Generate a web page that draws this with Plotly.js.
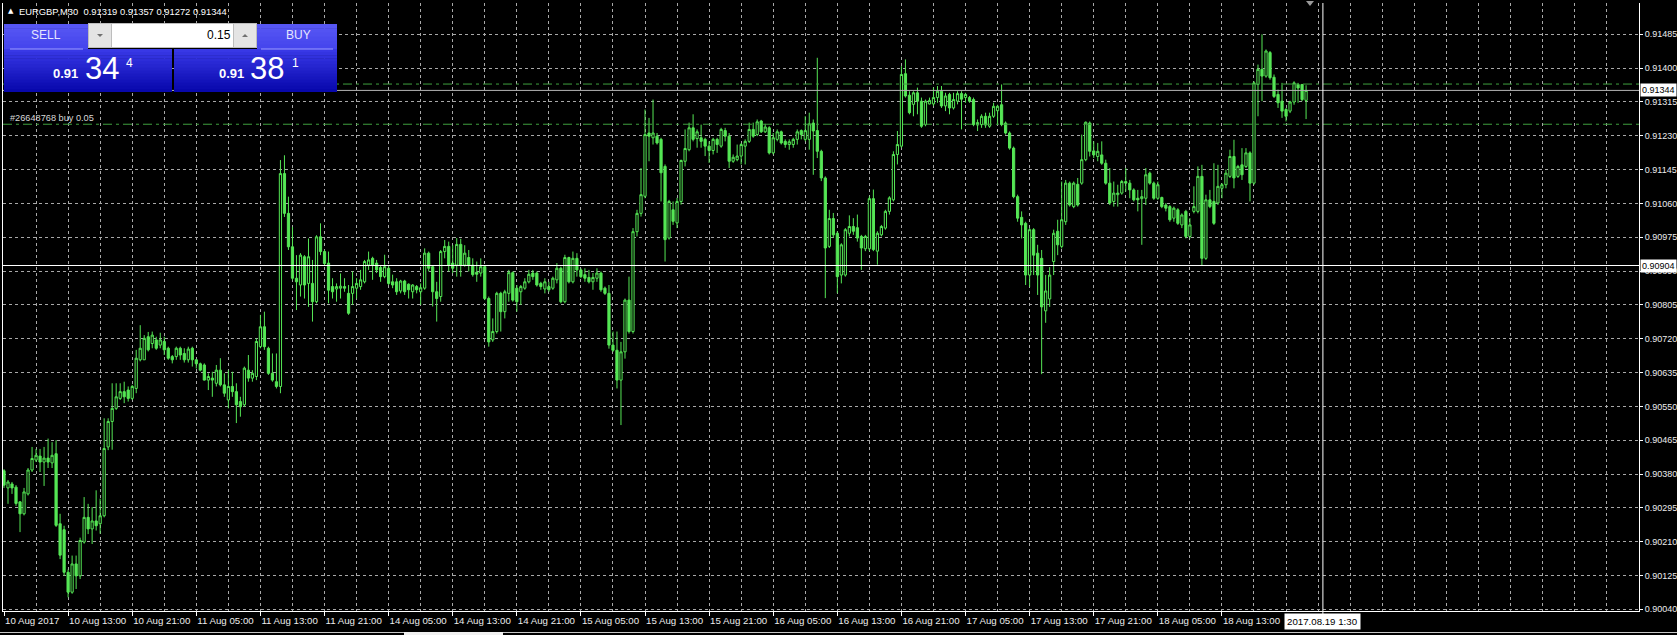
<!DOCTYPE html>
<html><head><meta charset="utf-8">
<script src="https://cdn.plot.ly/plotly-3.0.1.min.js"></script>
<style>html,body{margin:0;padding:0;background:#000;overflow:hidden}#chart{width:1677px;height:635px}</style>
</head><body><div id="chart"></div>
<script>
// ---------- data (EURGBP, M30, bars from 10 Aug 2017 05:00) ----------
const symbolTitle = "EURGBP,M30";
const lastBarText = ["0.91319", "0.91357", "0.91272", "0.91344"];

const open = [
0.90388,0.90345,0.90355,0.90347,0.90310,0.90280,0.90330,0.90390,0.90415,0.90425,
0.90410,0.90420,0.90408,0.90431,0.90255,0.90240,0.90133,0.90083,0.90154,0.90124,
0.90209,0.90271,0.90242,0.90262,0.90255,0.90275,0.90448,0.90512,0.90545,0.90570,
0.90587,0.90591,0.90570,0.90595,0.90667,0.90667,0.90725,0.90708,0.90717,0.90704,
0.90713,0.90696,0.90675,0.90675,0.90696,0.90683,0.90667,0.90696,0.90667,0.90657,
0.90654,0.90616,0.90621,0.90608,0.90641,0.90604,0.90566,0.90600,0.90587,0.90562,
0.90554,0.90641,0.90621,0.90625,0.90700,0.90750,0.90696,0.90633,0.90612,0.90600,
0.91135,0.91035,0.90951,0.90872,0.90855,0.90926,0.90859,0.90859,0.90813,0.90976,
0.90939,0.90910,0.90851,0.90845,0.90847,0.90851,0.90834,0.90834,0.90847,0.90851,
0.90863,0.90905,0.90922,0.90910,0.90899,0.90876,0.90897,0.90863,0.90863,0.90840,
0.90865,0.90857,0.90838,0.90851,0.90838,0.90847,0.90935,0.90901,0.90838,0.90826,
0.90939,0.90952,0.90910,0.90905,0.90957,0.90905,0.90924,0.90905,0.90887,0.90885,
0.90901,0.90821,0.90717,0.90738,0.90834,0.90788,0.90834,0.90886,0.90847,0.90838,
0.90847,0.90863,0.90885,0.90885,0.90859,0.90845,0.90851,0.90847,0.90868,0.90897,
0.90813,0.90924,0.90863,0.90922,0.90893,0.90881,0.90874,0.90863,0.90872,0.90885,
0.90847,0.90834,0.90704,0.90691,0.90616,0.90687,0.90817,0.90738,0.90989,0.91035,
0.91078,0.91237,0.91225,0.91229,0.91221,0.91153,0.90973,0.91044,0.91011,0.91065,
0.91166,0.91195,0.91250,0.91223,0.91225,0.91221,0.91204,0.91193,0.91221,0.91204,
0.91243,0.91229,0.91166,0.91170,0.91179,0.91204,0.91216,0.91246,0.91233,0.91267,
0.91240,0.91250,0.91187,0.91221,0.91240,0.91216,0.91208,0.91208,0.91221,0.91243,
0.91221,0.91221,0.91262,0.91243,0.91191,0.91124,0.90952,0.91022,0.90985,0.90880,
0.90880,0.90985,0.91002,0.90999,0.90977,0.90946,0.90946,0.91072,0.90940,0.90981,
0.90998,0.91040,0.91069,0.91183,0.91204,0.91386,0.91332,0.91309,0.91338,0.91317,
0.91258,0.91310,0.91310,0.91326,0.91342,0.91305,0.91334,0.91300,0.91317,0.91336,
0.91326,0.91326,0.91321,0.91263,0.91258,0.91279,0.91254,0.91279,0.91293,0.91308,
0.91262,0.91237,0.91199,0.91077,0.91025,0.91010,0.90880,0.90994,0.90935,0.90922,
0.90790,0.90820,0.90914,0.90990,0.90952,0.91014,0.91111,0.91052,0.91108,0.91111,
0.91170,0.91262,0.91192,0.91178,0.91182,0.91161,0.91111,0.91065,0.91082,0.91086,
0.91115,0.91111,0.91094,0.91073,0.91072,0.91073,0.91136,0.91111,0.91073,0.91075,
0.91056,0.91052,0.91023,0.91044,0.91006,0.91040,0.90977,0.91040,0.91040,0.91128,
0.90922,0.91069,0.91065,0.91061,0.91098,0.91107,0.91128,0.91178,0.91128,0.91157,
0.91153,0.91187,0.91111,0.91359,0.91397,0.91380,0.91439,0.91377,0.91334,0.91317,
0.91296,0.91292,0.91315,0.91359,0.91359,0.91319];

const high = [
0.90392,0.90365,0.90360,0.90352,0.90312,0.90345,0.90395,0.90448,0.90443,0.90443,
0.90448,0.90469,0.90460,0.90465,0.90280,0.90250,0.90140,0.90175,0.90175,0.90220,
0.90322,0.90305,0.90297,0.90339,0.90318,0.90520,0.90520,0.90608,0.90608,0.90608,
0.90612,0.90600,0.90604,0.90692,0.90754,0.90729,0.90737,0.90738,0.90725,0.90735,
0.90725,0.90700,0.90679,0.90700,0.90700,0.90696,0.90700,0.90700,0.90669,0.90660,
0.90658,0.90633,0.90637,0.90654,0.90671,0.90633,0.90641,0.90637,0.90608,0.90574,
0.90650,0.90679,0.90641,0.90721,0.90780,0.90788,0.90700,0.90683,0.90683,0.91169,
0.91181,0.91077,0.91001,0.90930,0.90935,0.90930,0.90972,0.90918,0.90980,0.91010,
0.90943,0.90939,0.90872,0.90859,0.90884,0.90872,0.90855,0.90889,0.90872,0.90893,
0.90918,0.90939,0.90926,0.90918,0.90905,0.90931,0.90905,0.90881,0.90872,0.90868,
0.90868,0.90859,0.90857,0.90855,0.90859,0.90947,0.90939,0.90905,0.90863,0.90943,
0.90968,0.90964,0.90955,0.90973,0.90971,0.90955,0.90943,0.90922,0.90914,0.90922,
0.90905,0.90826,0.90771,0.90838,0.90838,0.90843,0.90893,0.90889,0.90855,0.90855,
0.90872,0.90893,0.90893,0.90889,0.90863,0.90872,0.90863,0.90876,0.90910,0.90901,
0.90931,0.90926,0.90939,0.90935,0.90897,0.90897,0.90893,0.90885,0.90897,0.90889,
0.90851,0.90855,0.90738,0.90738,0.90712,0.90821,0.90876,0.90998,0.91044,0.91149,
0.91296,0.91275,0.91321,0.91237,0.91225,0.91158,0.91069,0.91065,0.91074,0.91170,
0.91246,0.91263,0.91284,0.91246,0.91258,0.91225,0.91216,0.91225,0.91225,0.91250,
0.91250,0.91237,0.91183,0.91208,0.91212,0.91221,0.91263,0.91263,0.91271,0.91270,
0.91260,0.91254,0.91237,0.91246,0.91243,0.91221,0.91221,0.91225,0.91246,0.91246,
0.91279,0.91288,0.91271,0.91426,0.91195,0.91128,0.91044,0.91036,0.90990,0.90960,
0.90998,0.91030,0.91023,0.91032,0.90981,0.90981,0.91078,0.91095,0.90990,0.91006,
0.91044,0.91078,0.91191,0.91242,0.91405,0.91422,0.91342,0.91342,0.91351,0.91326,
0.91321,0.91326,0.91351,0.91355,0.91355,0.91338,0.91338,0.91338,0.91342,0.91342,
0.91338,0.91330,0.91326,0.91271,0.91284,0.91288,0.91288,0.91313,0.91308,0.91359,
0.91266,0.91241,0.91203,0.91082,0.91040,0.91014,0.90998,0.90998,0.90956,0.90943,
0.90880,0.90900,0.90994,0.91019,0.91115,0.91119,0.91115,0.91115,0.91124,0.91233,
0.91266,0.91266,0.91216,0.91212,0.91216,0.91170,0.91149,0.91115,0.91107,0.91119,
0.91149,0.91119,0.91098,0.91094,0.91094,0.91149,0.91140,0.91115,0.91115,0.91077,
0.91061,0.91056,0.91052,0.91048,0.91035,0.91044,0.91023,0.91103,0.91153,0.91157,
0.91082,0.91094,0.91161,0.91157,0.91111,0.91145,0.91195,0.91220,0.91157,0.91199,
0.91199,0.91191,0.91367,0.91409,0.91485,0.91447,0.91443,0.91384,0.91346,0.91363,
0.91300,0.91318,0.91367,0.91363,0.91360,0.91357];

const low = [
0.90345,0.90305,0.90330,0.90300,0.90234,0.90276,0.90326,0.90385,0.90410,0.90385,
0.90350,0.90395,0.90395,0.90247,0.90166,0.90124,0.90070,0.90079,0.90091,0.90116,
0.90205,0.90229,0.90204,0.90238,0.90230,0.90271,0.90440,0.90441,0.90541,0.90566,
0.90558,0.90562,0.90566,0.90583,0.90663,0.90667,0.90688,0.90696,0.90692,0.90696,
0.90679,0.90667,0.90658,0.90667,0.90667,0.90660,0.90660,0.90650,0.90645,0.90638,
0.90615,0.90591,0.90574,0.90600,0.90600,0.90574,0.90545,0.90574,0.90508,0.90524,
0.90549,0.90612,0.90612,0.90616,0.90696,0.90692,0.90629,0.90612,0.90595,0.90583,
0.91026,0.90943,0.90867,0.90792,0.90826,0.90821,0.90800,0.90763,0.90809,0.90930,
0.90905,0.90809,0.90821,0.90813,0.90821,0.90838,0.90780,0.90805,0.90821,0.90843,
0.90859,0.90893,0.90868,0.90885,0.90863,0.90872,0.90855,0.90847,0.90830,0.90834,
0.90830,0.90821,0.90821,0.90834,0.90805,0.90843,0.90889,0.90801,0.90763,0.90813,
0.90922,0.90889,0.90885,0.90876,0.90876,0.90901,0.90889,0.90876,0.90863,0.90876,
0.90817,0.90700,0.90712,0.90733,0.90738,0.90771,0.90813,0.90813,0.90788,0.90805,
0.90843,0.90859,0.90868,0.90851,0.90843,0.90834,0.90838,0.90843,0.90859,0.90809,
0.90809,0.90859,0.90859,0.90876,0.90872,0.90863,0.90859,0.90843,0.90863,0.90838,
0.90830,0.90695,0.90687,0.90595,0.90503,0.90670,0.90733,0.90733,0.90977,0.91027,
0.91073,0.91166,0.91208,0.91208,0.91065,0.90914,0.90969,0.91006,0.90998,0.91057,
0.91153,0.91191,0.91216,0.91200,0.91200,0.91179,0.91162,0.91183,0.91187,0.91200,
0.91216,0.91149,0.91162,0.91166,0.91158,0.91158,0.91212,0.91225,0.91229,0.91237,
0.91237,0.91183,0.91183,0.91216,0.91208,0.91200,0.91195,0.91200,0.91208,0.91221,
0.91216,0.91195,0.91132,0.91174,0.91116,0.90822,0.90948,0.90973,0.90834,0.90859,
0.90876,0.90977,0.90981,0.90964,0.90893,0.90940,0.90940,0.90940,0.90906,0.90977,
0.90994,0.91032,0.91065,0.91158,0.91200,0.91326,0.91284,0.91279,0.91284,0.91250,
0.91254,0.91309,0.91305,0.91313,0.91300,0.91292,0.91284,0.91296,0.91309,0.91246,
0.91313,0.91313,0.91254,0.91242,0.91250,0.91250,0.91250,0.91275,0.91258,0.91254,
0.91233,0.91195,0.91073,0.91014,0.90972,0.90855,0.90850,0.90880,0.90830,0.90631,
0.90760,0.90800,0.90880,0.90930,0.90947,0.91006,0.91052,0.91048,0.91052,0.91107,
0.91166,0.91178,0.91174,0.91166,0.91157,0.91107,0.91056,0.91052,0.91052,0.91082,
0.91090,0.91073,0.91065,0.91040,0.90956,0.91056,0.91107,0.91069,0.91069,0.91048,
0.91040,0.91014,0.91014,0.91006,0.90998,0.90972,0.90972,0.91035,0.91035,0.90905,
0.90918,0.91048,0.91006,0.91056,0.91073,0.91098,0.91124,0.91098,0.91124,0.91119,
0.91149,0.91065,0.91107,0.91279,0.91317,0.91376,0.91371,0.91325,0.91300,0.91275,
0.91266,0.91287,0.91308,0.91313,0.91317,0.91272];

const close = [
0.90352,0.90360,0.90345,0.90306,0.90280,0.90335,0.90390,0.90419,0.90427,0.90410,
0.90420,0.90410,0.90427,0.90251,0.90176,0.90133,0.90083,0.90154,0.90124,0.90213,
0.90271,0.90242,0.90262,0.90250,0.90275,0.90444,0.90512,0.90545,0.90574,0.90587,
0.90574,0.90570,0.90600,0.90671,0.90696,0.90721,0.90692,0.90729,0.90696,0.90717,
0.90692,0.90671,0.90667,0.90696,0.90679,0.90667,0.90694,0.90667,0.90657,0.90641,
0.90616,0.90625,0.90616,0.90641,0.90604,0.90583,0.90600,0.90587,0.90554,0.90549,
0.90646,0.90621,0.90633,0.90713,0.90750,0.90700,0.90633,0.90616,0.90600,0.91135,
0.91035,0.90951,0.90872,0.90863,0.90930,0.90855,0.90926,0.90813,0.90976,0.90939,
0.90909,0.90842,0.90838,0.90851,0.90852,0.90847,0.90784,0.90851,0.90859,0.90868,
0.90914,0.90918,0.90905,0.90893,0.90876,0.90901,0.90859,0.90855,0.90838,0.90865,
0.90838,0.90843,0.90855,0.90843,0.90848,0.90935,0.90897,0.90838,0.90821,0.90939,
0.90952,0.90905,0.90897,0.90957,0.90905,0.90935,0.90905,0.90881,0.90882,0.90901,
0.90821,0.90712,0.90738,0.90834,0.90788,0.90838,0.90886,0.90817,0.90813,0.90851,
0.90863,0.90882,0.90876,0.90855,0.90851,0.90863,0.90843,0.90872,0.90897,0.90813,
0.90924,0.90863,0.90922,0.90893,0.90876,0.90872,0.90863,0.90874,0.90885,0.90843,
0.90834,0.90704,0.90691,0.90616,0.90687,0.90817,0.90738,0.90989,0.91035,0.91082,
0.91233,0.91229,0.91237,0.91212,0.91137,0.90969,0.91065,0.91015,0.91065,0.91168,
0.91198,0.91250,0.91221,0.91240,0.91216,0.91204,0.91193,0.91221,0.91208,0.91246,
0.91229,0.91166,0.91176,0.91179,0.91208,0.91216,0.91246,0.91229,0.91265,0.91240,
0.91252,0.91187,0.91225,0.91240,0.91212,0.91208,0.91215,0.91221,0.91240,0.91233,
0.91243,0.91260,0.91242,0.91191,0.91124,0.90948,0.91022,0.90981,0.90876,0.90956,
0.90994,0.91002,0.90990,0.90973,0.90948,0.90977,0.91072,0.90944,0.90985,0.91002,
0.91040,0.91074,0.91183,0.91208,0.91384,0.91330,0.91288,0.91338,0.91317,0.91254,
0.91317,0.91319,0.91326,0.91342,0.91305,0.91330,0.91300,0.91321,0.91336,0.91322,
0.91334,0.91317,0.91258,0.91257,0.91279,0.91257,0.91279,0.91304,0.91304,0.91258,
0.91237,0.91199,0.91077,0.91023,0.91006,0.90880,0.90994,0.90930,0.90880,0.90800,
0.90840,0.90880,0.90985,0.90956,0.91019,0.91111,0.91056,0.91111,0.91056,0.91170,
0.91264,0.91191,0.91182,0.91191,0.91161,0.91111,0.91061,0.91086,0.91086,0.91115,
0.91111,0.91094,0.91069,0.91069,0.91077,0.91132,0.91111,0.91073,0.91107,0.91052,
0.91048,0.91019,0.91048,0.91010,0.91031,0.90977,0.91006,0.91052,0.91128,0.90922,
0.91069,0.91052,0.91010,0.91103,0.91107,0.91136,0.91178,0.91124,0.91153,0.91132,
0.91187,0.91111,0.91363,0.91397,0.91380,0.91443,0.91376,0.91329,0.91313,0.91292,
0.91279,0.91315,0.91363,0.91350,0.91321,0.91344];

// time labels, one every 16 bars (8 hours)
const xTickLabels = ["10 Aug 2017","10 Aug 13:00","10 Aug 21:00","11 Aug 05:00","11 Aug 13:00",
"11 Aug 21:00","14 Aug 05:00","14 Aug 13:00","14 Aug 21:00","15 Aug 05:00","15 Aug 13:00",
"15 Aug 21:00","16 Aug 05:00","16 Aug 13:00","16 Aug 21:00","17 Aug 05:00","17 Aug 13:00",
"17 Aug 21:00","18 Aug 05:00","18 Aug 13:00"];
const barsPerLabel = 16;
const barsPerGrid = 8;

// price scale labels
const yTickLabels = ["0.90040","0.90125","0.90210","0.90295","0.90380","0.90465","0.90550",
"0.90635","0.90720","0.90805","0.90890","0.90975","0.91060","0.91145","0.91230","0.91315",
"0.91400","0.91485"];

const bidPrice = 0.91344;
const orderLevels = [0.91360, 0.91259];
const orderLabel = "#26648768 buy 0.05";
const crossPrice = 0.90904;
const crossBar = 329.2;
const crossTime = "2017.08.19 1:30";
const lotSize = "0.15";
const sellQuote = {head: "0.91", big: "34", pip: "4"};
const buyQuote = {head: "0.91", big: "38", pip: "1"};

// ---------- layout geometry ----------
const W = 1677, H = 635, ML = 3, MR = 38, MT = 3, MB = 24;
const PW = W - ML - MR, PH = H - MT - MB;
const px = v => (v - ML) / PW;
const py = v => (H - MB - v) / PH;
const FONT = "Liberation Sans, Arial, sans-serif";
const GREEN = "#55e655";
const GRID = "#a8a8a8";

const idx = open.map((_, i) => i);

const traces = [{
  type: "candlestick", x: idx, open: open, high: high, low: low, close: close,
  increasing: {line: {color: GREEN, width: 1}, fillcolor: "#000000"},
  decreasing: {line: {color: GREEN, width: 1}, fillcolor: GREEN},
  whiskerwidth: 0, hoverinfo: "skip", showlegend: false
}];

const shapes = [];
orderLevels.forEach(p => shapes.push({type: "line", xref: "paper", yref: "y", x0: 0, x1: 1, y0: p, y1: p,
  line: {color: "#3f9f3f", width: 1, dash: "9px,4px,3px,4px"}}));
shapes.push({type: "line", xref: "paper", yref: "y", x0: 0, x1: 1, y0: bidPrice, y1: bidPrice,
  line: {color: "#b4b4b4", width: 1}});
shapes.push({type: "line", xref: "paper", yref: "y", x0: 0, x1: 1, y0: crossPrice, y1: crossPrice,
  line: {color: "#ffffff", width: 1}});
shapes.push({type: "line", xref: "x", yref: "paper", x0: crossBar, x1: crossBar, y0: py(628), y1: 1,
  line: {color: "#ffffff", width: 1}});

function hex(c) { return [1, 3, 5].map(k => parseInt(c.substr(k, 2), 16)); }
function grad(x0, x1, y0, y1, c0, c1, n) {
  const a = hex(c0), b = hex(c1);
  for (let k = 0; k < n; k++) {
    const t = (k + 0.5) / n;
    const c = a.map((v, j) => Math.round(v + (b[j] - v) * t));
    shapes.push({type: "rect", xref: "paper", yref: "paper", x0: px(x0), x1: px(x1),
      y0: py(y0 + (y1 - y0) * k / n), y1: py(Math.min(y1, y0 + (y1 - y0) * (k + 1) / n + 0.6)),
      fillcolor: "rgb(" + c.join(",") + ")", line: {width: 0}});
  }
}
grad(4, 172, 49, 92, "#3a3ae8", "#0606aa", 14);
grad(174, 337, 49, 92, "#3a3ae8", "#0606aa", 14);
grad(4, 88, 24, 49, "#5858f4", "#4444ec", 6);
grad(257, 337, 24, 49, "#5858f4", "#4444ec", 6);
shapes.push({type: "line", xref: "paper", yref: "paper", x0: px(10), x1: px(83), y0: py(49), y1: py(49), line: {color: "#9c9cff", width: 1}});
shapes.push({type: "line", xref: "paper", yref: "paper", x0: px(261), x1: px(333), y0: py(49), y1: py(49), line: {color: "#9c9cff", width: 1}});
shapes.push({type: "rect", xref: "paper", yref: "paper", x0: px(88), x1: px(257), y0: py(48), y1: py(23), fillcolor: "#bdbdbd", line: {width: 0}});
shapes.push({type: "rect", xref: "paper", yref: "paper", x0: px(89), x1: px(111), y0: py(47), y1: py(24), fillcolor: "#e4e4e4", line: {width: 0}});
shapes.push({type: "rect", xref: "paper", yref: "paper", x0: px(234), x1: px(256), y0: py(47), y1: py(24), fillcolor: "#e4e4e4", line: {width: 0}});
shapes.push({type: "rect", xref: "paper", yref: "paper", x0: px(112), x1: px(233), y0: py(47), y1: py(24), fillcolor: "#ffffff", line: {width: 0}});
function tri(pts, color) {
  shapes.push({type: "path", xref: "paper", yref: "paper",
    path: "M" + pts.map(p => px(p[0]) + "," + py(p[1])).join(" L") + " Z", fillcolor: color, line: {width: 0}});
}
tri([[97, 34], [103, 34], [100, 37]], "#707070");
tri([[242, 37], [248, 37], [245, 34]], "#707070");
tri([[1306, 1], [1314, 1], [1310, 6]], "#9a9a9a");
shapes.push({type: "line", xref: "paper", yref: "paper", x0: px(0), x1: px(W), y0: py(632.5), y1: py(632.5), line: {color: "#c8c8c8", width: 1}});
shapes.push({type: "rect", xref: "paper", yref: "paper", x0: px(404), x1: px(503), y0: py(635), y1: py(632), fillcolor: "#f0f0f0", line: {width: 0}});

const ann = [];
function txt(t, x, y, size, color, anchor, extra) {
  ann.push(Object.assign({text: t, xref: "paper", yref: "paper", x: px(x), y: py(y), xanchor: anchor || "left",
    yanchor: "middle", showarrow: false, font: {family: FONT, size: size, color: color}, borderpad: 0}, extra || {}));
}
txt("▲", 7, 11, 7, "#ffffff", "left", {font: {family: "DejaVu Sans", size: 7, color: "#ffffff"}});
txt(symbolTitle + "&nbsp; " + lastBarText.join(" "), 18, 11, 9.4, "#ffffff");
txt("SELL", 46, 35, 12, "#e6e6ff", "center");
txt("BUY", 298, 35, 12, "#e6e6ff", "center");
txt(lotSize, 232, 35, 12, "#000000", "right");
txt("<b>" + sellQuote.head + "</b>", 65, 73, 13, "#ffffff", "center");
txt(sellQuote.big, 84, 68, 31, "#ffffff", "left");
txt(sellQuote.pip, 125, 63, 12, "#ffffff", "left");
txt("<b>" + buyQuote.head + "</b>", 231, 73, 13, "#ffffff", "center");
txt(buyQuote.big, 249, 68, 31, "#ffffff", "left");
txt(buyQuote.pip, 291, 63, 12, "#ffffff", "left");
txt(orderLabel, 9, 118, 9.2, "#d8d8d8", "left");
[bidPrice, crossPrice].forEach(p => ann.push({text: p.toFixed(5), xref: "paper", x: 1, xanchor: "left", xshift: 1,
  yref: "y", y: p, yanchor: "middle", showarrow: false, bgcolor: "#ffffff", borderpad: 1,
  font: {family: FONT, size: 9, color: "#000000"}}));
ann.push({text: crossTime, xref: "x", x: crossBar, xanchor: "center", yref: "paper", y: 0, yanchor: "top", yshift: -2,
  showarrow: false, bgcolor: "#ffffff", borderpad: 2, font: {family: FONT, size: 9.7, color: "#000000"}});

const layout = {
  width: W, height: H, margin: {l: ML, r: MR, t: MT, b: MB},
  paper_bgcolor: "#000000", plot_bgcolor: "#000000", showlegend: false,
  boxgap: 0.45, boxgroupgap: 0,
  xaxis: {
    range: [-0.25, 408.1], autorange: false, fixedrange: true, automargin: false,
    rangeslider: {visible: false}, zeroline: false,
    tickmode: "array", tickvals: xTickLabels.map((_, k) => k * barsPerLabel), ticktext: xTickLabels,
    tickangle: 0, ticks: "outside", ticklen: 4, tickcolor: "#ffffff", ticklabelposition: "outside right",
    tickfont: {family: FONT, size: 9.7, color: "#ececec"},
    showline: true, linecolor: "#ffffff", linewidth: 1,
    showgrid: true, gridcolor: GRID, gridwidth: 1, griddash: "3px,3px",
    minor: {tickmode: "linear", tick0: 0, dtick: barsPerGrid, showgrid: true, gridcolor: GRID, gridwidth: 1, griddash: "3px,3px", ticklen: 0}
  },
  yaxis: {
    side: "right", range: [0.900357, 0.915637], autorange: false, fixedrange: true, automargin: false,
    tickmode: "array", tickvals: yTickLabels.map(Number), ticktext: yTickLabels,
    ticks: "outside", ticklen: 3, tickcolor: "#ffffff",
    tickfont: {family: FONT, size: 9, color: "#ececec"},
    showline: true, linecolor: "#ffffff", linewidth: 1, mirror: true, zeroline: false,
    showgrid: true, gridcolor: GRID, gridwidth: 1, griddash: "3px,3px"
  },
  shapes: shapes, annotations: ann
};

Plotly.newPlot("chart", traces, layout, {displayModeBar: false, staticPlot: true});
</script>
</body></html>
